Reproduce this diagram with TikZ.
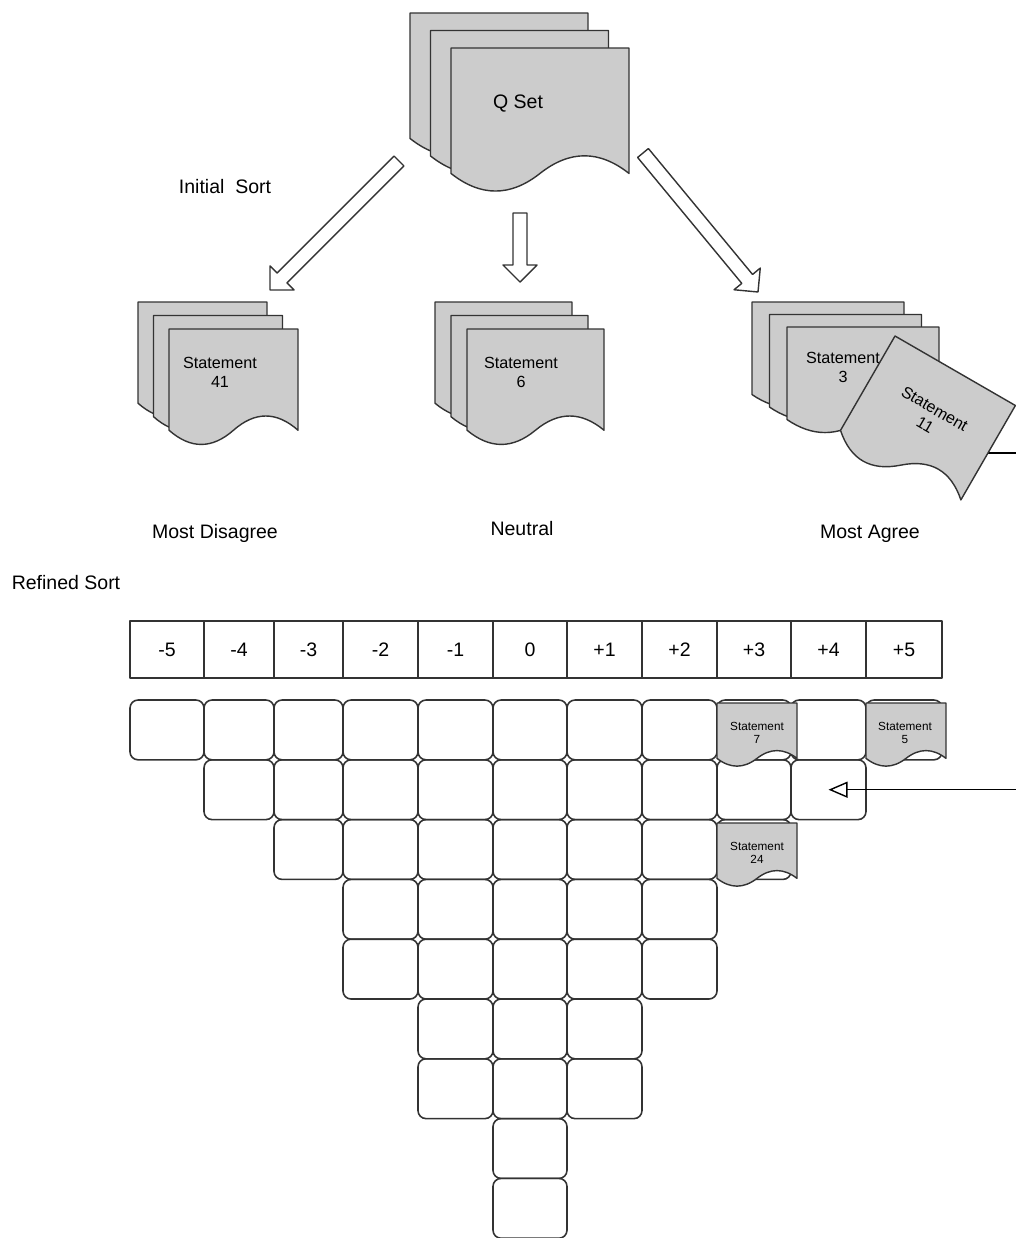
\documentclass[tikz,border=0pt]{standalone}
\usepackage{fontspec}
\setmainfont{Liberation Sans}
\usetikzlibrary{calc,arrows.meta}
\definecolor{edge}{HTML}{333333}
\definecolor{cardgray}{HTML}{CCCCCC}

\begin{document}
\begin{tikzpicture}[
    x=0.02cm, y=-0.02cm, line join=round,
    lbl/.style={font=\fontsize{11.1}{13}\selectfont},
    stm/.style={font=\fontsize{9.2}{10.8}\selectfont, align=center, inner sep=0pt},
    smallstm/.style={font=\fontsize{6.7}{7.6}\selectfont, align=center, inner sep=0pt},
    head/.style={draw=edge, line width=0.8pt, minimum height=1.14cm, inner sep=0pt, lbl},
    cell/.style={draw=edge, line width=0.9pt, rounded corners=0.16cm, minimum height=1.196cm, inner sep=0pt},
    hollow/.style={draw=edge, line width=0.8pt, fill=white},
    link/.style={draw=black, line width=0.8pt, -{Triangle[open, length=0.38cm, width=0.32cm]}},
    pics/doc/.style 2 args={code={
      \draw[draw=edge, line width=0.8pt, fill=cardgray]
        (0,0) -- (#1,0) -- (#1,{0.865*#2})
        .. controls ({0.8333*#1},{0.703*#2}) and ({0.6667*#1},{0.703*#2}) .. ({0.5*#1},{0.865*#2})
        .. controls ({0.3333*#1},{1.027*#2}) and ({0.1667*#1},{1.027*#2}) .. (0,{0.865*#2}) -- cycle;
    }},
  ]
    \useasboundingbox (0,0) rectangle (1016,1238);

    % Refined sort: scale row
    \foreach \xa/\xb/\v [count=\i] in {130/204/-5, 204/274/-4, 274/343/-3, 343/418/-2, 418/493/-1,
        493/567/0, 567/642/+1, 642/717/+2, 717/791/+3, 791/866/+4, 866/942/+5} {
      \node[head, minimum width={(\xb-\xa)*0.02cm}] (h\i) at ({(\xa+\xb)/2}, 649.5) {\v};
    }
    % Refined sort: grid of slots
    \foreach \xa/\xb/\n [count=\i] in {130/204/1, 204/274/2, 274/343/3, 343/418/5, 418/493/7,
        493/567/9, 567/642/7, 642/717/5, 717/791/3, 791/866/2, 866/942/1} {
      \foreach \j in {1,...,\n}
        \node[cell, minimum width={(\xb-\xa)*0.02cm}] (c\i-\j) at ({(\xa+\xb)/2}, {700+(\j-0.5)*59.8}) {};
    }
    % Placed statements
    \pic at (717,703) {doc={80}{64}};
    \pic at (866,703) {doc={80}{64}};
    \pic at (717,823) {doc={80}{64}};
    \node[smallstm] (s7) at (757,733) {Statement\\7};
    \node[smallstm] (s5) at (905,733) {Statement\\5};
    \node[smallstm] (s24) at (757,853) {Statement\\24};

    % Initial sort: piles
    \foreach \px/\py/\w/\h/\dx/\dy in {451/48/178/145/-20.5/-17.5, 169/329/129/117/-15.5/-13.5,
        467/329/137/117/-16/-13.5, 787/327/152/107/-17.5/-12.5} {
      \foreach \k in {2,1,0}
        \pic at ({\px+\k*\dx},{\py+\k*\dy}) {doc={\w}{\h}};
    }
    \node[lbl] (qset) at (518,104) {Q Set};
    \node[stm] (s41) at (220,372) {Statement\\41};
    \node[stm] (s6) at (521,372) {Statement\\6};
    \node[stm] (s3) at (843,367) {Statement\\3};

    % Moving a statement
    \coordinate (out) at (960,453);
    \coordinate (bend) at (1040,453);
    \draw[link] (out) -- (bend) |- (c10-2.center);
    \pic[rotate=-30] at (895,336) {doc={139}{126}};
    \node[stm, rotate=-30] (s11) at (930,417) {Statement\\11};

    % Hollow arrows
    \coordinate (a1s) at (399,161);
    \coordinate (a1e) at (270,290);
    \coordinate (a2s) at (520,213);
    \coordinate (a2e) at (520,282);
    \coordinate (a3s) at (643,153);
    \coordinate (a3e) at (758,292);
    \foreach \s/\e in {a1s/a1e, a2s/a2e, a3s/a3e} {
      \coordinate (hb) at ($(\e)!0.34cm!(\s)$);
      \draw[hollow] ($(\s)!0.14cm!90:(\e)$) -- ($(hb)!0.14cm!90:(\e)$) -- ($(hb)!0.34cm!90:(\e)$)
        -- (\e) -- ($(hb)!0.34cm!-90:(\e)$) -- ($(hb)!0.14cm!-90:(\e)$) -- ($(\s)!0.14cm!-90:(\e)$) -- cycle;
    }

    % Labels
    \node[lbl] (initial) at (225,187) {Initial\ \ Sort};
    \node[lbl] (mdis) at (215,533) {Most Disagree};
    \node[lbl] (neutral) at (522,529) {Neutral};
    \node[lbl] (magree) at (870,534) {Most Agree};
    \node[lbl] (refined) at (66,583) {Refined Sort};
\end{tikzpicture}
\end{document}
